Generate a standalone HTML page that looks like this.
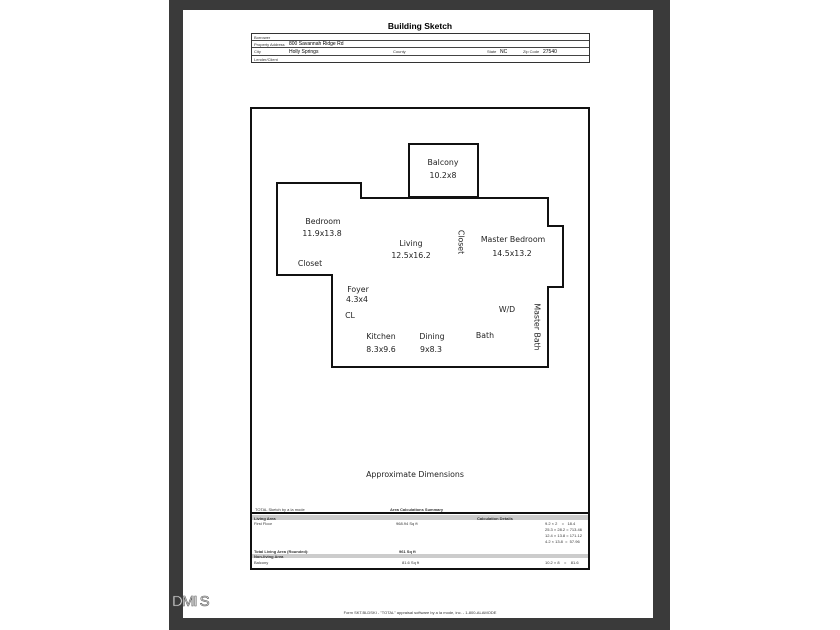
<!DOCTYPE html>
<html><head><meta charset="utf-8"><style>
*{margin:0;padding:0;box-sizing:border-box}
body{width:840px;height:630px;background:#fff;position:relative;overflow:hidden;font-family:"DejaVu Sans","Liberation Sans",sans-serif}
.a{position:absolute;white-space:nowrap}
.c{transform:translateX(-50%)}
.t{font-size:7.8px;color:#222}
.s{font-size:4px;color:#333;font-family:"Liberation Sans",sans-serif}
.b{font-weight:bold}
.r{position:absolute;left:0;right:0;border-bottom:1px solid #444}
</style></head><body>
<div class="a" style="left:169px;top:0;width:501px;height:630px;background:#3a3a3a"></div>
<div class="a" style="left:183px;top:10px;width:470px;height:608px;background:#fff;"></div>
<div class="a c b" style="left:420px;top:21px;font-size:8.5px;font-family:'Liberation Sans',sans-serif">Building Sketch</div>
<div class="a" style="left:251px;top:33px;width:339px;height:30px;border:1px solid #333">
 <div class="r" style="top:6px"></div><div class="r" style="top:13px"></div><div class="r" style="top:21px"></div>
 <div class="a s" style="left:2px;top:1px">Borrower</div>
 <div class="a s" style="left:2px;top:8px">Property Address</div>
 <div class="a" style="left:37px;top:7px;font-size:5px;font-family:'Liberation Sans'">800 Savannah Ridge Rd</div>
 <div class="a s" style="left:2px;top:15px">City</div>
 <div class="a" style="left:37px;top:15px;font-size:5px;font-family:'Liberation Sans'">Holly Springs</div>
 <div class="a s" style="left:141px;top:15px">County</div>
 <div class="a s" style="left:235px;top:15px">State</div>
 <div class="a" style="left:248px;top:15px;font-size:5px;font-family:'Liberation Sans'">NC</div>
 <div class="a s" style="left:271px;top:15px">Zip Code</div>
 <div class="a" style="left:291px;top:15px;font-size:5px;font-family:'Liberation Sans'">27540</div>
 <div class="a s" style="left:2px;top:23px">Lender/Client</div>
</div>
<div class="a" style="left:250px;top:107px;width:340px;height:463px;border:2px solid #111"></div>
<div class="a" style="left:250px;top:512px;width:340px;height:2px;background:#111"></div>
<svg class="a" style="left:0;top:0" width="840" height="630">
<g fill="none" stroke="#111" stroke-width="2">
<rect x="409" y="144" width="69" height="53"/>
<polygon points="277,183 361,183 361,198 548,198 548,226 563,226 563,287 548,287 548,367 332,367 332,275 277,275"/>
</g>
<rect x="252" y="515" width="336" height="5" fill="#ccc"/>
<rect x="252" y="554" width="336" height="4" fill="#ccc"/>
</svg>
<div class="a c t" style="left:443px;top:158px">Balcony</div>
<div class="a c t" style="left:443px;top:171px">10.2x8</div>
<div class="a c t" style="left:323px;top:217px">Bedroom</div>
<div class="a c t" style="left:322px;top:229px">11.9x13.8</div>
<div class="a c t" style="left:310px;top:259px">Closet</div>
<div class="a c t" style="left:411px;top:239px">Living</div>
<div class="a c t" style="left:411px;top:251px">12.5x16.2</div>
<div class="a t" style="left:461px;top:242px;transform:translate(-50%,-50%) rotate(90deg)">Closet</div>
<div class="a c t" style="left:513px;top:235px">Master Bedroom</div>
<div class="a c t" style="left:512px;top:249px">14.5x13.2</div>
<div class="a c t" style="left:358px;top:285px">Foyer</div>
<div class="a c t" style="left:357px;top:295px">4.3x4</div>
<div class="a c t" style="left:350px;top:311px">CL</div>
<div class="a c t" style="left:507px;top:305px">W/D</div>
<div class="a t" style="left:537px;top:327px;transform:translate(-50%,-50%) rotate(90deg)">Master Bath</div>
<div class="a c t" style="left:381px;top:332px">Kitchen</div>
<div class="a c t" style="left:381px;top:345px">8.3x9.6</div>
<div class="a c t" style="left:432px;top:332px">Dining</div>
<div class="a c t" style="left:431px;top:345px">9x8.3</div>
<div class="a c t" style="left:485px;top:331px">Bath</div>
<div class="a c t" style="left:415px;top:470px">Approximate Dimensions</div>
<div class="a s" style="left:255px;top:507px">TOTAL Sketch by a la mode</div>
<div class="a s b" style="left:390px;top:507px">Area Calculations Summary</div>
<div class="a s b" style="left:254px;top:516px">Living Area</div>
<div class="a s b" style="left:477px;top:516px">Calculation Details</div>
<div class="a s" style="left:254px;top:521px">First Floor</div>
<div class="a s" style="left:396px;top:521px">968.94 Sq ft</div>
<div class="a s" style="left:545px;top:521px">9.2 × 2 &nbsp;&nbsp; = &nbsp; 18.4</div>
<div class="a s" style="left:545px;top:527px">25.3 × 28.2 = 713.46</div>
<div class="a s" style="left:545px;top:533px">12.4 × 13.8 = 171.12</div>
<div class="a s" style="left:545px;top:539px">4.2 × 13.8 &nbsp;= &nbsp;57.96</div>
<div class="a s b" style="left:254px;top:549px">Total Living Area (Rounded):</div>
<div class="a s b" style="left:399px;top:549px">961 Sq ft</div>
<div class="a s b" style="left:254px;top:554px">Non-living Area</div>
<div class="a s" style="left:254px;top:560px">Balcony</div>
<div class="a s" style="left:402px;top:560px">81.6 Sq ft</div>
<div class="a s" style="left:545px;top:560px">10.2 × 8 &nbsp;&nbsp; = &nbsp;&nbsp; 81.6</div>
<div class="a c s" style="left:420px;top:610px">Form SKT.BLDSKI - "TOTAL" appraisal software by a la mode, inc. - 1-800-ALAMODE</div>
<div class="a" style="left:172px;top:593px;font-size:15px;color:#eee;font-family:'Liberation Sans';-webkit-text-stroke:0.6px #555;letter-spacing:-1px">DMI S</div>
</body></html>
